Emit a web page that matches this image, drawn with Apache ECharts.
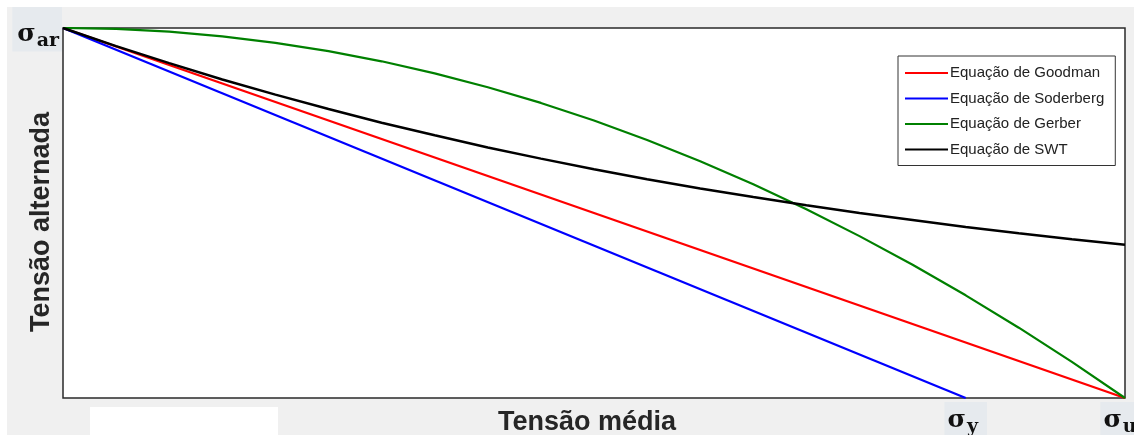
<!DOCTYPE html>
<html>
<head>
<meta charset="utf-8">
<script src="https://cdn.jsdelivr.net/npm/echarts@6/dist/echarts.min.js"></script>
<style>
  html, body { margin: 0; padding: 0; background: #ffffff; }
  #chart { width: 1134px; height: 435px; }
</style>
</head>
<body>
<div id="chart"></div>
<script>
// Mean stress (normalised to the ultimate strength, σu = 1)
var meanStress = [0, 0.05, 0.1, 0.15, 0.2, 0.25, 0.3, 0.35, 0.4, 0.45, 0.5,
                  0.55, 0.6, 0.65, 0.7, 0.75, 0.8, 0.85, 0.9, 0.95, 1];

// Alternating stress (normalised to σar = 1) for each criterion
var goodman   = [[0, 1], [1, 0]];
var soderberg = [[0, 1], [0.85, 0]];
var gerber    = [1, 0.9975, 0.99, 0.9775, 0.96, 0.9375, 0.91, 0.8775, 0.84, 0.7975, 0.75,
                 0.6975, 0.64, 0.5775, 0.51, 0.4375, 0.36, 0.2775, 0.19, 0.0975, 0];
var swt       = [1, 0.951, 0.905, 0.861, 0.820, 0.781, 0.744, 0.710, 0.677, 0.647, 0.618,
                 0.591, 0.566, 0.543, 0.521, 0.500, 0.481, 0.462, 0.445, 0.429, 0.414];

var seriesNames = ['Equação de Goodman', 'Equação de Soderberg', 'Equação de Gerber', 'Equação de SWT'];
var seriesColors = ['#ff0000', '#0000ff', '#008000', '#000000'];

// Marked stresses on the axes
var xMarkValues = [0.85, 1];
var xMarkSubs   = ['y', 'u'];
var yMarkValues = [1];
var yMarkSubs   = ['ar'];

function pairUp(xs, ys) {
  return xs.map(function (x, i) { return [x, ys[i]]; });
}

var sigmaRich = {
  s:    { fontFamily: 'DejaVu Serif', fontWeight: 'bold', fontSize: 25, color: '#111' },
  sub:  { fontFamily: 'DejaVu Serif', fontWeight: 'bold', fontSize: 19, color: '#111', padding: [14, 0, 0, 1] },
  subY: { fontFamily: 'DejaVu Serif', fontWeight: 'bold', fontSize: 19, color: '#111', padding: [14, 6, 0, 1] },
  subU: { fontFamily: 'DejaVu Serif', fontWeight: 'bold', fontSize: 19, color: '#111', padding: [14, 10, 0, 1] }
};
var xSubStyles = ['subY', 'subU'];

var titleFont = { fontFamily: 'Liberation Sans', fontWeight: 'bold', fontSize: 27, color: '#262626' };

var chart = echarts.init(document.getElementById('chart'));

chart.setOption({
  backgroundColor: '#f0f0f0',
  animation: false,
  graphic: [
    { type: 'rect', shape: { x: 0, y: 0, width: 1134, height: 7 }, style: { fill: '#ffffff' }, z: 100 },
    { type: 'rect', shape: { x: 0, y: 0, width: 7, height: 435 }, style: { fill: '#ffffff' }, z: 100 },
    { type: 'rect', shape: { x: 90, y: 407, width: 188, height: 28 }, style: { fill: '#ffffff' }, z: -1 }
  ],
  grid: {
    left: 63, right: 9, top: 28, bottom: 37,
    containLabel: false,
    outerBoundsMode: 'none',
    show: true, backgroundColor: '#ffffff', borderColor: '#2a2a2a', borderWidth: 1.5
  },
  legend: {
    orient: 'vertical',
    left: 898, top: 56,
    backgroundColor: '#ffffff',
    borderColor: '#333333', borderWidth: 1,
    padding: [9, 11, 8, 7],
    itemGap: 9.5,
    itemWidth: 43, itemHeight: 2,
    icon: 'rect',
    textStyle: { fontFamily: 'Liberation Sans', fontSize: 15, color: '#222', lineHeight: 16, padding: [0, 0, 0, -3] },
    data: seriesNames
  },
  xAxis: {
    type: 'value', min: 0, max: 1,
    name: 'Tensão média',
    nameLocation: 'middle', nameGap: 11,
    nameMoveOverlap: false,
    nameTextStyle: Object.assign({ padding: [0, 14, 0, 0] }, titleFont),
    axisLine: { show: false }, axisTick: { show: false }, splitLine: { show: false },
    axisLabel: {
      customValues: xMarkValues,
      margin: 4,
      backgroundColor: '#e6eaee',
      padding: [2, 3, 0, 3],
      formatter: function (v) {
        var i = xMarkValues.indexOf(v);
        return '{s|σ}{' + xSubStyles[i] + '|' + xMarkSubs[i] + '}';
      },
      rich: sigmaRich
    }
  },
  yAxis: {
    type: 'value', min: 0, max: 1,
    name: 'Tensão alternada',
    nameLocation: 'middle', nameGap: 8,
    nameMoveOverlap: false,
    nameTextStyle: Object.assign({ padding: [0, 18, 0, 0] }, titleFont),
    axisLine: { show: false }, axisTick: { show: false }, splitLine: { show: false },
    axisLabel: {
      customValues: yMarkValues,
      margin: 1,
      backgroundColor: '#e6eaee',
      padding: [13, 3, 1, 5],
      formatter: function (v) {
        var i = yMarkValues.indexOf(v);
        return '{s|σ}{sub|' + yMarkSubs[i] + '}';
      },
      rich: sigmaRich
    }
  },
  series: [
    { name: seriesNames[0], type: 'line', data: goodman, color: seriesColors[0], showSymbol: false, lineStyle: { width: 2.2 } },
    { name: seriesNames[1], type: 'line', data: soderberg, color: seriesColors[1], showSymbol: false, lineStyle: { width: 2.2 } },
    { name: seriesNames[2], type: 'line', data: pairUp(meanStress, gerber), color: seriesColors[2], showSymbol: false, lineStyle: { width: 2.2 } },
    { name: seriesNames[3], type: 'line', data: pairUp(meanStress, swt), color: seriesColors[3], showSymbol: false, lineStyle: { width: 2.5 } }
  ]
});
</script>
</body>
</html>
